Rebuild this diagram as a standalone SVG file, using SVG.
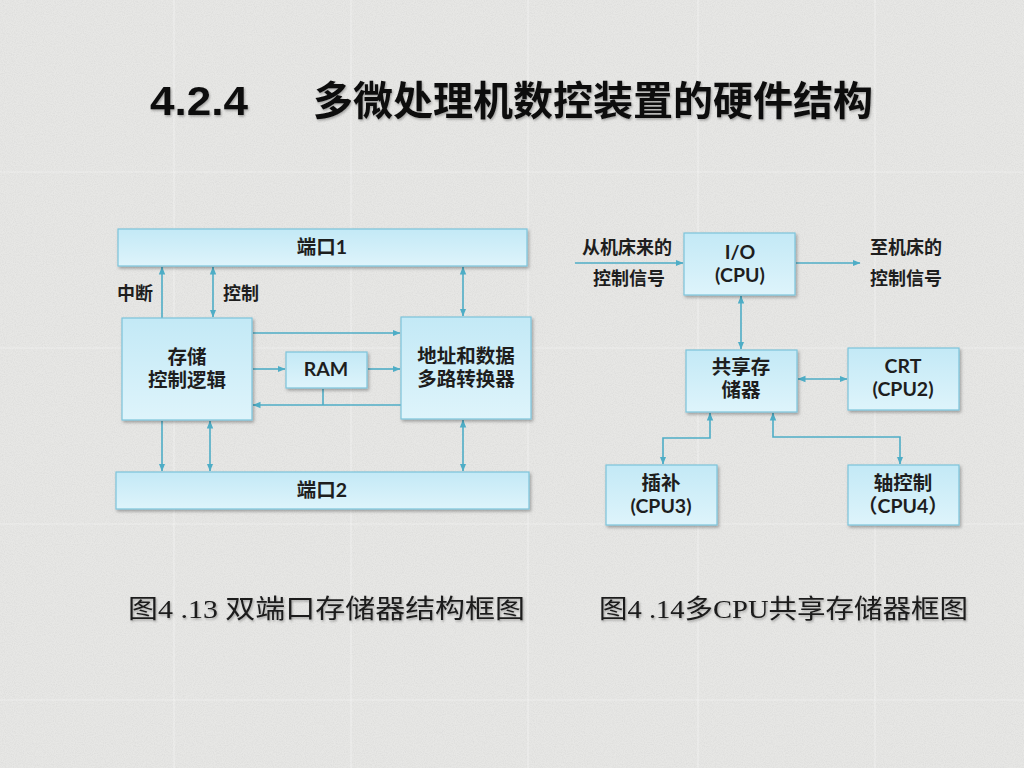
<svg xmlns="http://www.w3.org/2000/svg" width="1024" height="768" viewBox="0 0 1024 768">
<defs>
<style>
.box{fill:url(#bf);stroke:#7cc4da;stroke-width:1.2;filter:url(#sh)}
.t{font-family:"Lato","Noto Sans CJK SC",sans-serif;font-weight:bold;font-size:19.5px;fill:#1e1e1e;text-anchor:middle}
.lbl{font-family:"Noto Sans CJK SC",sans-serif;font-weight:bold;font-size:18px;fill:#1e1e1e;text-anchor:middle}
.c{fill:none;stroke:#4eadc6;stroke-width:1.6}
.a1{marker-end:url(#ah)}
.a2{marker-start:url(#ah);marker-end:url(#ah)}
.cap{font-family:"Liberation Serif","Noto Sans CJK SC",serif;font-size:26px;fill:#1a1a1a}
.grid{stroke:#ffffff;stroke-opacity:0.35;stroke-width:1.2}
</style>
<linearGradient id="bf" x1="0" y1="0" x2="0" y2="1">
<stop offset="0" stop-color="#c3e9f6"/>
<stop offset="1" stop-color="#def4fb"/>
</linearGradient>
<filter id="sh" x="-10%" y="-10%" width="125%" height="130%">
<feDropShadow dx="1.5" dy="2" stdDeviation="1.5" flood-color="#000" flood-opacity="0.3"/>
</filter>
<filter id="ts" x="-5%" y="-5%" width="115%" height="130%">
<feDropShadow dx="1" dy="1.5" stdDeviation="1" flood-color="#000" flood-opacity="0.3"/>
</filter>
<filter id="noise" x="0" y="0" width="100%" height="100%">
<feTurbulence type="fractalNoise" baseFrequency="0.9" numOctaves="2" seed="3"/>
<feColorMatrix type="matrix" values="0 0 0 0 0.5  0 0 0 0 0.5  0 0 0 0 0.5  0 0 0 -1.6 1.05"/>
</filter>
<marker id="ah" viewBox="0 0 8 8" refX="7.5" refY="4" markerWidth="8" markerHeight="8" markerUnits="userSpaceOnUse" orient="auto-start-reverse">
<path d="M0,0.8 L8,4 L0,7.2 Z" fill="#4eadc6"/>
</marker>
</defs>

<g id="background">
<rect x="0" y="0" width="1024" height="768" fill="#e7e7e5"/>
<rect x="0" y="0" width="1024" height="768" filter="url(#noise)" opacity="0.25"/>
<line class="grid" x1="174" y1="0" x2="174" y2="768"/>
<line class="grid" x1="351" y1="0" x2="351" y2="768"/>
<line class="grid" x1="528" y1="0" x2="528" y2="768"/>
<line class="grid" x1="698" y1="0" x2="698" y2="768"/>
<line class="grid" x1="875" y1="0" x2="875" y2="768"/>
<line class="grid" x1="0" y1="172" x2="1024" y2="172"/>
<line class="grid" x1="0" y1="348" x2="1024" y2="348"/>
<line class="grid" x1="0" y1="524" x2="1024" y2="524"/>
<line class="grid" x1="0" y1="700" x2="1024" y2="700"/>
</g>

<g id="title" filter="url(#ts)">
<text x="150" y="115" font-family="Liberation Sans, sans-serif" font-weight="bold" font-size="40" fill="#111" textLength="98" lengthAdjust="spacingAndGlyphs">4.2.4</text>
<text x="313" y="115" font-family="Noto Sans CJK SC, sans-serif" font-weight="bold" font-size="40" fill="#111">多微处理机数控装置的硬件结构</text>
</g>

<g id="connectors">
<line class="c a1" x1="162" y1="318" x2="162" y2="267"/>
<line class="c a2" x1="213" y1="267" x2="213" y2="317"/>
<line class="c a2" x1="463" y1="267" x2="463" y2="316"/>
<line class="c a1" x1="162" y1="421" x2="162" y2="471"/>
<line class="c a2" x1="210" y1="421" x2="210" y2="471"/>
<line class="c a2" x1="463" y1="420" x2="463" y2="471"/>
<line class="c a1" x1="253" y1="333" x2="400" y2="333"/>
<line class="c a1" x1="253" y1="369" x2="285" y2="369"/>
<line class="c a1" x1="368" y1="369" x2="400" y2="369"/>
<line class="c a1" x1="401" y1="405" x2="253" y2="405"/>
<line class="c" x1="323" y1="389" x2="323" y2="405"/>
<line class="c a1" x1="575" y1="263" x2="683" y2="263"/>
<line class="c a1" x1="796" y1="263" x2="860" y2="263"/>
<line class="c a2" x1="741" y1="296" x2="741" y2="349"/>
<line class="c a2" x1="798" y1="379" x2="847" y2="379"/>
<polyline class="c a2" points="710,413 710,438 663,438 663,464"/>
<polyline class="c a2" points="773,413 773,437 900,437 900,464"/>
</g>

<g id="port1">
<rect class="box" x="118" y="229" width="409" height="37"/>
<text class="t" x="322" y="254">端口1</text>
</g>
<g id="port2">
<rect class="box" x="116" y="472" width="413" height="37"/>
<text class="t" x="322" y="497">端口2</text>
</g>
<g id="storage-control">
<rect class="box" x="122" y="318" width="130" height="102"/>
<text class="t" x="187" y="364">存储</text>
<text class="t" x="187" y="387">控制逻辑</text>
</g>
<g id="ram">
<rect class="box" x="286" y="352" width="81" height="36"/>
<text class="t" x="326" y="376">RAM</text>
</g>
<g id="mux">
<rect class="box" x="401" y="317" width="130" height="102"/>
<text class="t" x="466" y="363">地址和数据</text>
<text class="t" x="466" y="386">多路转换器</text>
</g>
<g id="label-interrupt"><text class="lbl" x="135" y="300">中断</text></g>
<g id="label-control"><text class="lbl" x="241" y="300">控制</text></g>

<g id="io">
<rect class="box" x="684" y="233" width="111" height="62"/>
<text class="t" x="740" y="259">I/O</text>
<text class="t" x="740" y="282">(CPU)</text>
</g>
<g id="shared-memory">
<rect class="box" x="686" y="350" width="111" height="62"/>
<text class="t" x="741" y="374">共享存</text>
<text class="t" x="741" y="397">储器</text>
</g>
<g id="crt">
<rect class="box" x="848" y="348" width="111" height="62"/>
<text class="t" x="903" y="373">CRT</text>
<text class="t" x="903" y="396">(CPU2)</text>
</g>
<g id="interp">
<rect class="box" x="606" y="465" width="111" height="60"/>
<text class="t" x="661" y="490">插补</text>
<text class="t" x="661" y="513">(CPU3)</text>
</g>
<g id="axis">
<rect class="box" x="848" y="465" width="111" height="60"/>
<text class="t" x="903" y="490">轴控制</text>
<text class="t" x="903" y="513">（CPU4）</text>
</g>
<g id="label-in">
<text class="lbl" x="627" y="254">从机床来的</text>
<text class="lbl" x="629" y="285">控制信号</text>
</g>
<g id="label-out">
<text class="lbl" x="906" y="254">至机床的</text>
<text class="lbl" x="906" y="285">控制信号</text>
</g>

<g id="captions" filter="url(#ts)">
<text class="cap" x="128" y="618" textLength="397" lengthAdjust="spacingAndGlyphs">图4 .13 双端口存储器结构框图</text>
<text class="cap" x="599" y="618" textLength="369" lengthAdjust="spacingAndGlyphs">图4 .14多CPU共享存储器框图</text>
</g>
</svg>
